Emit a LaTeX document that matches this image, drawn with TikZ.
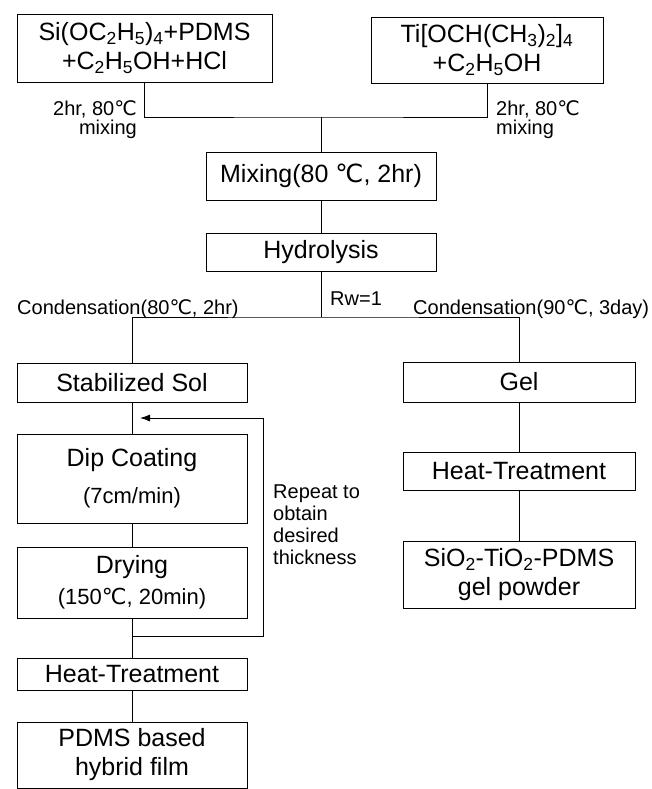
\documentclass[tikz,border=0pt]{standalone}
\usepackage{fontspec}
\setmainfont{Liberation Sans}
\newfontfamily\dvsfont{DejaVu Sans}
\newcommand{\dgc}{{\dvsfont ℃}}
\newcommand{\sbs}[1]{\textsubscript{#1}}
\newcommand{\boxfnt}{\fontsize{25}{29}\selectfont}
\newcommand{\smlfnt}{\fontsize{22}{26}\selectfont}
\newcommand{\lblfnt}{\fontsize{20}{19}\selectfont}
\newcommand{\repfnt}{\fontsize{20}{22}\selectfont}
\usetikzlibrary{arrows.meta}
\begin{document}
\begin{tikzpicture}[x=1pt,y=-1pt,
  box/.style={draw, line width=0.9pt, inner sep=0pt, align=center, font=\boxfnt},
  lbl/.style={inner sep=0pt, font=\lblfnt},
  conn/.style={line width=0.9pt}]
\useasboundingbox[fill=white] (0,0) rectangle (652,789);

% boxes
\node[box, minimum width=255, minimum height=68] (si) at (144.5,48) {Si(OC\sbs{2}H\sbs{5})\sbs{4}+PDMS\\+C\sbs{2}H\sbs{5}OH+HCl};
\node[box, minimum width=232, minimum height=66] (ti) at (487,50) {Ti[OCH(CH\sbs{3})\sbs{2}]\sbs{4}\\+C\sbs{2}H\sbs{5}OH};
\node[box, minimum width=230, minimum height=48] (mix) at (321,176) {Mixing(80 \dgc, 2hr)};
\node[box, minimum width=230, minimum height=38] (hyd) at (321,252) {Hydrolysis};
\node[box, minimum width=230, minimum height=39] (stab) at (132,382.5) {Stabilized Sol};
\node[box, minimum width=232, minimum height=40] (gel) at (519,382) {Gel};
\node[box, minimum width=230, minimum height=89] (dip) at (132,478.5) {Dip Coating\\[8pt]{\smlfnt (7cm/min)}};
\node[box, minimum width=230, minimum height=71] (dry) at (132,582.5) {Drying\\[2pt]{\smlfnt (150\dgc, 20min)}};
\node[box, minimum width=230, minimum height=32] (heatl) at (132,674) {Heat-Treatment};
\node[box, minimum width=230, minimum height=66] (pdms) at (132,755) {PDMS based\\hybrid film};
\node[box, minimum width=232, minimum height=38] (heatr) at (519,471) {Heat-Treatment};
\node[box, minimum width=232, minimum height=67] (sio) at (519,574.5) {SiO\sbs{2}-TiO\sbs{2}-PDMS\\gel powder};

% junctions
\coordinate (j1) at (321,117);
\coordinate (j2) at (321,317);
\coordinate (lp1) at (132,636);
\coordinate (lp3) at (263,418);
\coordinate (lpt) at (140,418);

% connectors
\draw[conn] (si.south) |- (j1) -| (ti.south);
\draw[conn] (j1) -- (mix.north);
\draw[conn] (mix.south) -- (hyd.north);
\draw[conn] (hyd.south) -- (j2);
\draw[conn] (stab.north) |- (j2) -| (gel.north);
\draw[conn] (stab.south) -- (dip.north);
\draw[conn] (dip.south) -- (dry.north);
\draw[conn] (dry.south) -- (heatl.north);
\draw[conn] (heatl.south) -- (pdms.north);
\draw[conn, -{Latex[length=10pt,width=7pt]}] (lp1) -| (lp3) -- (lpt);
\draw[conn] (gel.south) -- (heatr.north);
\draw[conn] (heatr.south) -- (sio.north);

% labels
\node[lbl, anchor=north east, align=right] (l1) at (137,100) {2hr, 80\dgc\\mixing};
\node[lbl, anchor=north west, align=left] (l2) at (496,100) {2hr, 80\dgc\\mixing};
\node[lbl, anchor=base west] (rw) at (330,305) {Rw=1};
\node[lbl, anchor=base west] (c1) at (17,314) {Condensation(80\dgc, 2hr)};
\node[lbl, anchor=base west] (c2) at (413,314) {Condensation(90\dgc, 3day)};
\node[lbl, font=\repfnt, anchor=north west, align=left] (rep) at (273,485) {Repeat to\\obtain\\desired\\thickness};
\end{tikzpicture}
\end{document}
